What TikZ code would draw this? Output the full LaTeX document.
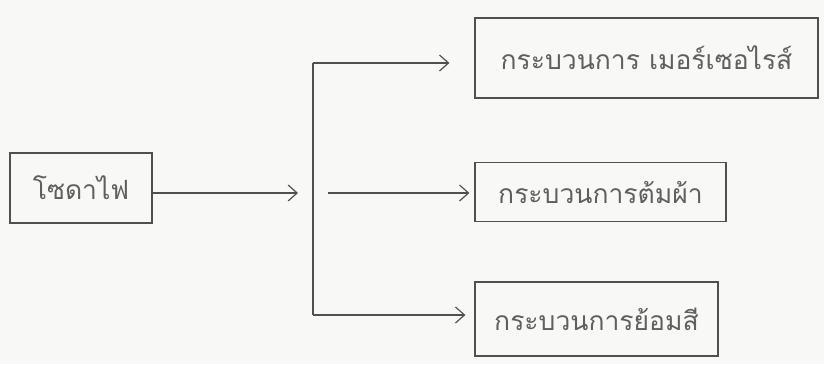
\documentclass[tikz,border=0pt]{standalone}
\usepackage{fontspec}
\newfontfamily\thaifont[Script=Thai]{Loma}
\usetikzlibrary{arrows.meta}
\definecolor{ink}{RGB}{80,80,80}
\definecolor{txt}{RGB}{95,95,95}
\definecolor{paper}{RGB}{248,248,246}
\begin{document}
\begin{tikzpicture}[x=1pt,y=-1pt,
  box/.style={draw=ink, line width=1.2pt, text=txt, inner sep=0pt,
    font=\thaifont\fontsize{26.5}{30}\selectfont},
  conn/.style={draw=ink, line width=1.2pt},
  arr/.style={conn, -{Straight Barb[length=9pt,width=16pt,line width=1.2pt]}}]
\useasboundingbox[fill=paper] (0,0) rectangle (824,364);
% boxes
\node[box, minimum width=142pt, minimum height=70pt] (soda) at (81,188) {โซดาไฟ};
\node[box, minimum width=343pt, minimum height=80pt] (mer) at (646.5,58) {กระบวนการ เมอร์เซอไรส์};
\node[box, minimum width=251pt, minimum height=59pt] (tom) at (600.5,192) {กระบวนการต้มผ้า};
\node[box, minimum width=243pt, minimum height=74pt] (yom) at (596.5,319) {กระบวนการย้อมสี};
% junction coordinates
\coordinate (jin) at (298,193);
\coordinate (vt) at (313,63);
\coordinate (vb) at (313,315);
\coordinate (ms) at (328,193);
% connectors
\draw[arr] ([yshift=-5pt]soda.east) -- (jin);
\draw[conn] (vt) -- (vb);
\draw[arr, shorten >=25pt] (vt) -- (vt -| mer.west);
\draw[arr, shorten >=5pt] (ms) -- (ms -| tom.west);
\draw[arr, shorten >=9pt] (vb) -- (vb -| yom.west);
\end{tikzpicture}
\end{document}
